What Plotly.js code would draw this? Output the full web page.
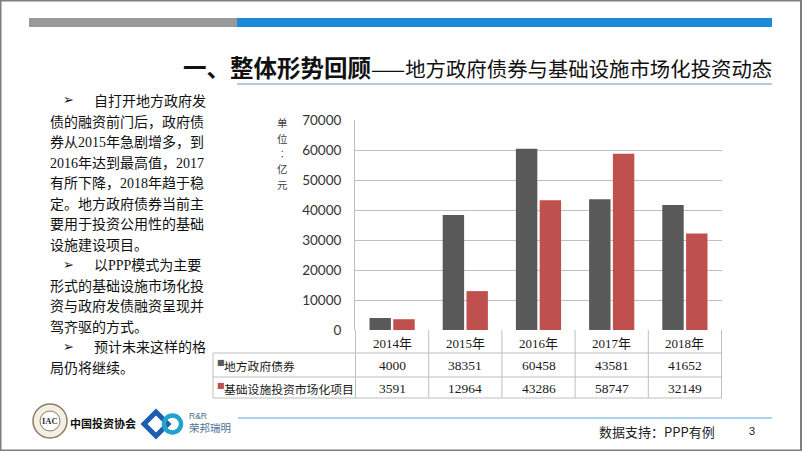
<!DOCTYPE html>
<html>
<head>
<meta charset="utf-8">
<script src="https://cdn.plot.ly/plotly-3.0.1.min.js"></script>
<style>
html,body{margin:0;padding:0;background:#fff;}
#chart{width:802px;height:451px;}
</style>
</head>
<body>
<div id="chart"></div>
<script>
// ---------------- data ----------------
const years = ['2014年', '2015年', '2016年', '2017年', '2018年'];
const seriesNames = ['地方政府债券', '基础设施投资市场化项目'];
const localBonds = [4000, 38351, 60458, 43581, 41652];
const marketInvest = [3591, 12964, 43286, 58747, 32149];
const yTickValues = [0, 10000, 20000, 30000, 40000, 50000, 60000, 70000];
const titleBold = '一、整体形势回顾';
const titleRest = '——地方政府债券与基础设施市场化投资动态';
const yTitleChars = ['单', '位', '︰', '亿', '元'];
const bodyLines = [
  '自打开地方政府发',
  '债的融资前门后，政府债',
  '券从2015年急剧增多，到',
  '2016年达到最高值，2017',
  '有所下降，2018年趋于稳',
  '定。地方政府债券当前主',
  '要用于投资公用性的基础',
  '设施建设项目。',
  '以PPP模式为主要',
  '形式的基础设施市场化投',
  '资与政府发债融资呈现并',
  '驾齐驱的方式。',
  '预计未来这样的格',
  '局仍将继续。'
];
const bulletLineIdx = [0, 8, 12];
const footerSource = '数据支持：PPP有例';
const pageNumber = '3';
const orgName = '中国投资协会';
const partnerTop = 'R&R';
const partnerName = '荣邦瑞明';

// ---------------- helpers (pixel -> paper) ----------------
const W = 802, H = 451;
const px = x => x / W;
const py = y => 1 - y / H;

const DARK = '#595959', RED = '#c0504d', GRID = '#bfbfbf';
const CJK = 'Noto Sans CJK SC';
const SERIF = 'Liberation Serif';

function serifNums(s) {
  return s.replace(/(\d+|PPP)/g, '<span style="font-family:Liberation Serif">$1</span>');
}

// ---------------- traces ----------------
const bar1 = {
  type: 'bar', x: years, y: localBonds, name: seriesNames[0],
  marker: {color: DARK}, hoverinfo: 'skip'
};
const bar2 = {
  type: 'bar', x: years, y: marketInvest, name: seriesNames[1],
  marker: {color: RED}, hoverinfo: 'skip'
};
const seriesValues = [localBonds, marketInvest];
const seriesColors = [DARK, RED];

// ---------------- annotations ----------------
const ann = [];
// title
ann.push({
  xref: 'paper', yref: 'paper', x: px(774), y: py(67), xanchor: 'right', yanchor: 'middle',
  showarrow: false,
  text: '<span style="font-size:23.5px;font-weight:bold">' + titleBold + '</span>' + titleRest,
  font: {family: CJK, size: 20.4, color: '#111'}
});
// body text
bodyLines.forEach((t, i) => {
  const isBullet = bulletLineIdx.indexOf(i) >= 0;
  const y = 100 + i * 20.5;
  if (isBullet) {
    ann.push({xref: 'paper', yref: 'paper', x: px(61), y: py(y), xanchor: 'left', yanchor: 'middle',
      showarrow: false, text: '➢', font: {family: 'DejaVu Sans', size: 13, color: '#111'}});
  }
  ann.push({
    xref: 'paper', yref: 'paper', x: px(isBullet ? 92 : 48), y: py(y), xanchor: 'left', yanchor: 'middle',
    showarrow: false, text: serifNums(t), font: {family: CJK, size: 14, color: '#111'}
  });
});
// y-axis title (stacked, upright characters)
yTitleChars.forEach((c, i) => {
  ann.push({xref: 'paper', yref: 'paper', x: px(282), y: py(123 + i * 15.3), xanchor: 'center', yanchor: 'middle',
    showarrow: false, text: c, font: {family: CJK, size: 10.5, color: '#404040'}});
});
// data table: header row (years) and series rows
years.forEach((yr, i) => {
  ann.push({xref: 'x', yref: 'paper', x: yr, y: py(342), xanchor: 'center', yanchor: 'middle',
    showarrow: false, text: serifNums(yr), font: {family: CJK, size: 13, color: '#1a1a1a'}});
});
const rowY = [365, 388];
seriesNames.forEach((n, r) => {
  ann.push({xref: 'paper', yref: 'paper', x: px(215), y: py(rowY[r] - 3), xanchor: 'left', yanchor: 'middle',
    showarrow: false, text: '■', font: {family: 'DejaVu Sans', size: 8, color: seriesColors[r]}});
  ann.push({xref: 'paper', yref: 'paper', x: px(222), y: py(rowY[r]), xanchor: 'left', yanchor: 'middle',
    showarrow: false, text: n, font: {family: CJK, size: 11.8, color: '#1a1a1a'}});
  years.forEach((yr, i) => {
    ann.push({xref: 'x', yref: 'paper', x: yr, y: py(rowY[r]), xanchor: 'center', yanchor: 'middle',
      showarrow: false, text: String(seriesValues[r][i]), font: {family: SERIF, size: 13.5, color: '#1a1a1a'}});
  });
});
// footer
ann.push({xref: 'paper', yref: 'paper', x: px(597), y: py(431), xanchor: 'left', yanchor: 'middle',
  showarrow: false, text: footerSource, font: {family: CJK, size: 13, color: '#222'}});
ann.push({xref: 'paper', yref: 'paper', x: px(752), y: py(431), xanchor: 'center', yanchor: 'middle',
  showarrow: false, text: pageNumber, font: {family: 'Liberation Sans', size: 11, color: '#222'}});
// logos text
ann.push({xref: 'paper', yref: 'paper', x: px(50), y: py(421), xanchor: 'center', yanchor: 'middle',
  showarrow: false, text: '<b>IAC</b>', font: {family: SERIF, size: 8.5, color: '#333'}});
ann.push({xref: 'paper', yref: 'paper', x: px(68), y: py(423), xanchor: 'left', yanchor: 'middle',
  showarrow: false, text: '<b>' + orgName + '</b>', font: {family: CJK, size: 11, color: '#111'}});
ann.push({xref: 'paper', yref: 'paper', x: px(187), y: py(416), xanchor: 'left', yanchor: 'middle',
  showarrow: false, text: partnerTop, font: {family: 'Liberation Sans', size: 8.5, color: '#4f6f8f'}});
ann.push({xref: 'paper', yref: 'paper', x: px(187), y: py(427), xanchor: 'left', yanchor: 'middle',
  showarrow: false, text: partnerName, font: {family: CJK, size: 10.5, color: '#4f7396'}});

// ---------------- shapes ----------------
const shapes = [
  // slide frame
  {type: 'rect', xref: 'paper', yref: 'paper', x0: px(0.5), x1: px(801), y0: py(450.5), y1: py(0.5),
    line: {color: '#7f7f7f', width: 2}, fillcolor: 'rgba(0,0,0,0)', layer: 'above'},
  // top bars
  {type: 'rect', xref: 'paper', yref: 'paper', x0: px(29), x1: px(237), y0: py(27), y1: py(18),
    line: {width: 0}, fillcolor: '#999999'},
  {type: 'rect', xref: 'paper', yref: 'paper', x0: px(237), x1: px(772), y0: py(27), y1: py(18),
    line: {width: 0}, fillcolor: '#1a8ad9'},
  // title underline
  {type: 'line', xref: 'paper', yref: 'paper', x0: px(237), x1: px(772), y0: py(84), y1: py(84),
    line: {color: '#b0cbe6', width: 2}},
  // footer line
  {type: 'line', xref: 'paper', yref: 'paper', x0: px(238), x1: px(772), y0: py(418), y1: py(418),
    line: {color: '#8cc4ea', width: 1.5}},
  // IAC seal
  {type: 'circle', xref: 'paper', yref: 'paper', x0: px(33), x1: px(67), y0: py(438), y1: py(404),
    line: {color: '#8a7f62', width: 1.5}, fillcolor: '#f3efe4'},
  {type: 'circle', xref: 'paper', yref: 'paper', x0: px(40), x1: px(60), y0: py(431), y1: py(411),
    line: {color: '#8a7f62', width: 1}, fillcolor: '#ffffff'},
  // partner logo: diamond + ring
  {type: 'path', xref: 'paper', yref: 'paper',
    path: 'M ' + px(144) + ' ' + py(424) + ' L ' + px(156) + ' ' + py(412) + ' L ' + px(168) + ' ' + py(424) +
      ' L ' + px(156) + ' ' + py(436) + ' Z',
    line: {color: '#1d5fae', width: 5}, fillcolor: 'rgba(0,0,0,0)'},
  {type: 'circle', xref: 'paper', yref: 'paper', x0: px(164), x1: px(181), y0: py(432.5), y1: py(415.5),
    line: {color: '#22a3c9', width: 4.5}, fillcolor: 'rgba(0,0,0,0)'}
];
// data table grid lines
const tableRowLinesY = [353, 377, 398];
tableRowLinesY.forEach(y => {
  shapes.push({type: 'line', xref: 'paper', yref: 'paper', x0: px(213), x1: px(722), y0: py(y), y1: py(y),
    line: {color: GRID, width: 1}});
});
shapes.push({type: 'line', xref: 'paper', yref: 'paper', x0: px(213), x1: px(213), y0: py(353), y1: py(398),
  line: {color: GRID, width: 1}});
for (let i = 0; i <= years.length; i++) {
  shapes.push({type: 'line', xref: 'x', yref: 'paper', x0: i - 0.5, x1: i - 0.5, y0: py(330), y1: py(398),
    line: {color: GRID, width: 1}});
}

// ---------------- layout ----------------
const layout = {
  width: W, height: H,
  margin: {l: 0, r: 0, t: 0, b: 0},
  paper_bgcolor: '#ffffff', plot_bgcolor: 'rgba(0,0,0,0)',
  showlegend: false,
  barmode: 'group', bargap: 0.35, bargroupgap: 0.1,
  xaxis: {
    domain: [px(355), px(722)], type: 'category', showticklabels: false,
    showgrid: false, zeroline: false, showline: false, ticks: '', fixedrange: true
  },
  yaxis: {
    domain: [py(330), py(120)], range: [0, 70000], tickvals: yTickValues,
    ticktext: yTickValues.map(String),
    showgrid: true, gridcolor: GRID, gridwidth: 1, zeroline: false,
    showline: true, linecolor: GRID, linewidth: 1, ticks: '', ticklabelstandoff: 10,
    tickfont: {family: 'Lato', size: 13.5, color: '#333'}, fixedrange: true
  },
  annotations: ann,
  shapes: shapes,
  font: {family: CJK}
};

Plotly.newPlot('chart', [bar1, bar2], layout, {displayModeBar: false, staticPlot: true});
</script>
</body>
</html>
